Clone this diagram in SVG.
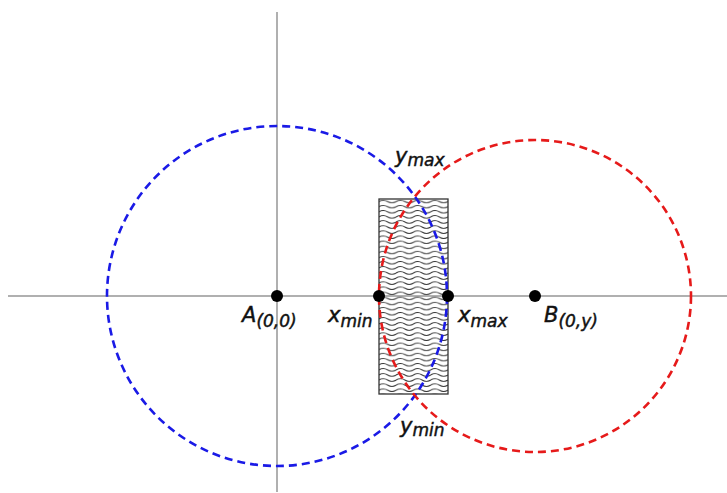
<svg xmlns="http://www.w3.org/2000/svg" width="727" height="493" viewBox="0 0 727 493">
<style>
.axis{stroke:#b0b0b0;stroke-width:2;fill:none}
.circ{fill:none;stroke-width:2.6;stroke-dasharray:8 5}
.dot{fill:#000}
.lbl{font-family:"DejaVu Sans",Verdana,sans-serif;font-style:italic;font-size:21px;fill:#111;stroke:#111;stroke-width:0.45}
.sub{font-size:17px}
</style>
<defs>
<pattern id="waves" patternUnits="userSpaceOnUse" x="379" y="199" width="17.25" height="5.1">
<path d="M0,2.55 Q4.31,0 8.62,2.55 T17.25,2.55" fill="none" stroke="#2a2a2a" stroke-width="1"/>
</pattern>
</defs>
<rect width="727" height="493" fill="#fff"/>
<g id="axes">
<line class="axis" x1="8" y1="296" x2="727" y2="296"/>
<line class="axis" x1="277" y1="12" x2="277" y2="492"/>
</g>
<g id="region">
<rect x="379" y="199" width="69" height="195" fill="url(#waves)" stroke="#333" stroke-width="1.3"/>
</g>
<g id="circles">
<circle class="circ" cx="277" cy="296" r="170" stroke="#1a1ae6"/>
<circle class="circ" cx="535" cy="296" r="156" stroke="#e61a1a"/>
</g>
<g id="A"><circle class="dot" cx="277" cy="296" r="6"/>
<text class="lbl" x="242" y="322">A<tspan class="sub" dy="5">(0,0)</tspan></text></g>
<g id="xmin"><circle class="dot" cx="379" cy="296" r="6"/>
<text class="lbl" x="328" y="322">x<tspan class="sub" dy="5">min</tspan></text></g>
<g id="xmax"><circle class="dot" cx="448" cy="296" r="6"/>
<text class="lbl" x="458" y="322">x<tspan class="sub" dy="5">max</tspan></text></g>
<g id="B"><circle class="dot" cx="535" cy="296" r="6"/>
<text class="lbl" x="544" y="322">B<tspan class="sub" dy="5">(0,y)</tspan></text></g>
<g id="ymax"><text class="lbl" x="395" y="163">y<tspan class="sub" dy="3">max</tspan></text></g>
<g id="ymin"><text class="lbl" x="400" y="433">y<tspan class="sub" dy="3">min</tspan></text></g>
</svg>
